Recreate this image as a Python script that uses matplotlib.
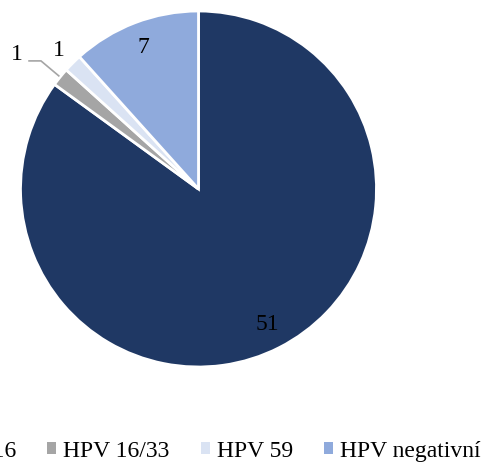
import numpy as np
import matplotlib
matplotlib.use("Agg")
import matplotlib.pyplot as plt

categories = ["HPV 16", "HPV 16/33", "HPV 59", "HPV negativní"]
values = [51, 1, 1, 7]
colors = ["#1F3864", "#A5A5A5", "#DAE3F3", "#8FAADC"]

plt.rcParams['font.family'] = ['Liberation Serif', 'DejaVu Serif']

fig = plt.figure(figsize=(4.82, 4.64), dpi=100)
cx, cy, r = 198.5 / 482, 1 - 190 / 464, 178
ax = fig.add_axes([cx - r / 482, cy - r / 464, 2 * r / 482, 2 * r / 464])
wedges, _ = ax.pie(values, colors=colors, startangle=90, counterclock=False,
                   wedgeprops=dict(edgecolor="white", linewidth=2))
ax.set_xlim(-1, 1)
ax.set_ylim(-1, 1)
ax.set_aspect("equal")
ax.axis("off")

fs = 17
dists = [0.85, None, 1.11, 0.86]
for i, (w, v, d) in enumerate(zip(wedges, values, dists)):
    ang = np.deg2rad((w.theta1 + w.theta2) / 2)
    if i == 1:
        ex, ey = 1.01 * np.cos(ang), 1.01 * np.sin(ang)
        ly = ey + 0.084
        elx = ex - 0.1
        sx = elx - 0.067
        ax.plot([sx, elx, ex], [ly, ly, ey], color="#A5A5A5", lw=1.2,
                clip_on=False, solid_joinstyle="miter")
        ax.text(sx - 0.035, ly + 0.04, str(v), fontsize=fs, ha="right", va="center")
    else:
        x, y = d * np.cos(ang), d * np.sin(ang)
        ax.text(x, y, str(v), fontsize=fs, ha="center", va="center")

leg = fig.legend(wedges, categories, loc="center right", bbox_to_anchor=(481 / 482, 1 - 452 / 464),
                 ncol=4, frameon=False, fontsize=fs, handlelength=0.4, handleheight=0.4,
                 handletextpad=0.3, columnspacing=1.3, borderpad=0, borderaxespad=0)
for h in leg.legend_handles:
    h.set_edgecolor("none")

fig.savefig("out.png", dpi=100)
